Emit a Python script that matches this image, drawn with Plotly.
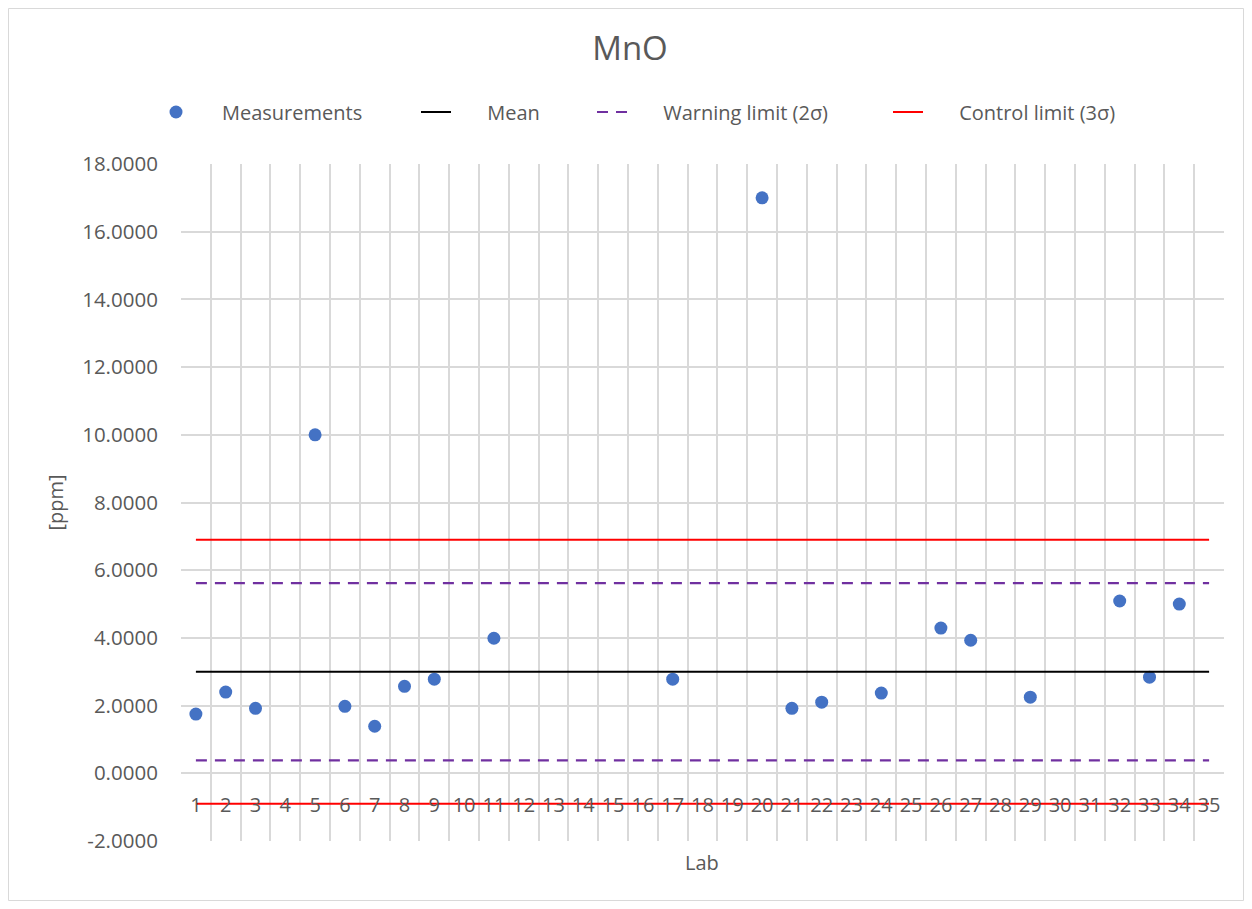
import plotly.graph_objects as go

labs = list(range(1, 36))
meas_labs = [1, 2, 3, 5, 6, 7, 8, 9, 11, 17, 20, 21, 22, 24, 26, 27, 29, 32, 33, 34]
meas_vals = [1.75, 2.40, 1.92, 10.0, 1.98, 1.39, 2.57, 2.78, 3.99, 2.78, 17.0,
             1.92, 2.10, 2.37, 4.29, 3.93, 2.25, 5.09, 2.84, 5.0]
mean_val = 3.0
warn_hi, warn_lo = 5.62, 0.38
ctrl_hi, ctrl_lo = 6.90, -0.90
y_ticks = [-2, 0, 2, 4, 6, 8, 10, 12, 14, 16, 18]

FONT = "'Open Sans', sans-serif"
GREY = "#595959"
GRID = "#d9d9d9"
NB = "\u00a0"

# pixel geometry (page coords); the plot div sits 8px in from the window edge
OFF = 8
PL, PR, PT, PB = 181, 1224, 164, 841
PW, PH = PR - PL, PB - PT


def px_x(p):
    return (p - PL) / PW


def px_y(p):
    return (PB - p) / PH


fig = go.Figure()
fig.add_trace(go.Scatter(x=meas_labs, y=meas_vals, mode="markers", name=NB * 5 + "Measurements",
                         legend="legend", marker=dict(color="#4472C4", size=13)))
fig.add_trace(go.Scatter(x=[labs[0], labs[-1]], y=[mean_val, mean_val], mode="lines",
                         name=NB * 6 + "Mean",
                         legend="legend2", line=dict(color="black", width=2)))
fig.add_trace(go.Scatter(x=[labs[0], labs[-1]], y=[warn_hi, warn_hi], mode="lines",
                         name=NB * 6 + "Warning limit (2σ)", legendgroup="w", legend="legend3",
                         line=dict(color="#7030A0", width=2.2, dash="11px,8px")))
fig.add_trace(go.Scatter(x=[labs[0], labs[-1]], y=[warn_lo, warn_lo], mode="lines",
                         name="Warning limit (2σ)", legendgroup="w", showlegend=False, legend="legend3",
                         line=dict(color="#7030A0", width=2.2, dash="11px,8px")))
fig.add_trace(go.Scatter(x=[labs[0], labs[-1]], y=[ctrl_hi, ctrl_hi], mode="lines",
                         name=NB * 6 + "Control limit (3σ)", legendgroup="c", legend="legend4",
                         line=dict(color="#FF0000", width=2.2)))
fig.add_trace(go.Scatter(x=[labs[0], labs[-1]], y=[ctrl_lo, ctrl_lo], mode="lines",
                         name="Control limit (3σ)", legendgroup="c", showlegend=False, legend="legend4",
                         line=dict(color="#FF0000", width=2.2)))


def leg(symbol_center):
    # plotly draws the legend symbol centred about 20px after the legend's left edge
    return dict(orientation="h", x=px_x(symbol_center - 22), xanchor="left",
                y=px_y(112), yanchor="middle", itemwidth=30,
                font=dict(size=20, color=GREY, family=FONT), bgcolor="rgba(0,0,0,0)")


y0 = y_ticks[0]
y1 = y_ticks[-1]
fig.update_layout(
    margin=dict(l=PL - OFF, r=1244 - PR, t=PT - OFF, b=901 - PB),
    paper_bgcolor="white", plot_bgcolor="white",
    font=dict(family=FONT, color=GREY, size=20),
    title=dict(text="MnO", x=(630 - OFF) / 1236, xanchor="center", xref="container",
               y=1 - (48 - OFF) / 893, yanchor="middle",
               font=dict(size=33, color=GREY)),
    legend=leg(178), legend2=leg(438), legend3=leg(614), legend4=leg(910),
    showlegend=True,
    xaxis=dict(range=[0.5, 35.5], tickmode="array", tickvals=labs, ticktext=[str(v) for v in labs],
               showgrid=False, zeroline=False, showline=False,
               anchor="free", position=(0 - y0) / (y1 - y0),
               ticks="outside", ticklen=14, tickcolor="rgba(0,0,0,0)",
               tickfont=dict(size=20, color=GREY),
               minor=dict(tickvals=[v + 0.5 for v in [0] + labs], showgrid=True,
                          gridcolor=GRID, gridwidth=1.5, ticks="")),
    yaxis=dict(range=[y0, y1], tickvals=y_ticks, ticktext=[f"{v:.4f}" for v in y_ticks],
               showgrid=True, gridcolor=GRID, gridwidth=1.5, zeroline=False,
               ticks="outside", ticklen=18, tickcolor="rgba(0,0,0,0)",
               tickfont=dict(size=20.5, color=GREY),
               title=dict(text="[ppm]", font=dict(size=20, color=GREY), standoff=13)),
)
fig.add_annotation(text="Lab", xref="paper", yref="paper", x=px_x(702), y=px_y(862),
                   showarrow=False, font=dict(size=20, color=GREY), xanchor="center", yanchor="middle")
fig.add_shape(type="rect", xref="paper", yref="paper",
              x0=px_x(8.5), x1=px_x(1243.5), y0=px_y(900.5), y1=px_y(8.5),
              line=dict(color="#d9d9d9", width=1), fillcolor="rgba(0,0,0,0)", layer="below")
fig.write_html("out.html")
